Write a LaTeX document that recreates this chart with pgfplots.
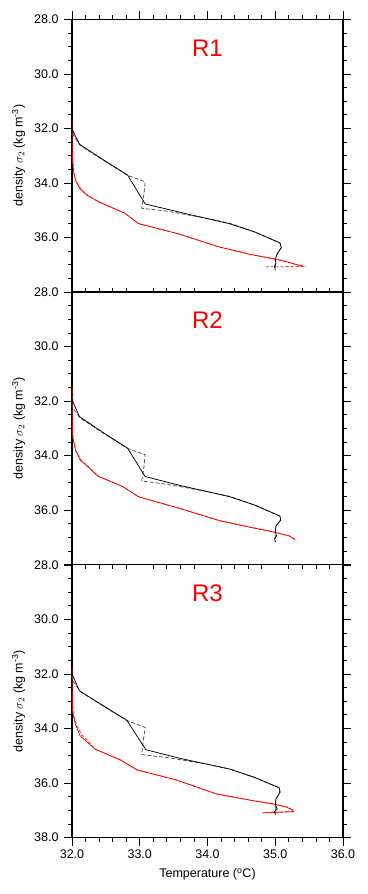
\documentclass[border=0pt]{standalone}
\usepackage{fontspec}
\setmainfont{Liberation Sans}
\usepackage{pgfplots}
\pgfplotsset{compat=1.18}
\tikzset{ttl/.style={text=red, font=\fontsize{24}{28}\selectfont}}
\newcommand{\lblfont}{\fontsize{12.5}{15}\selectfont}
\pgfplotsset{
  panel/.style={
    scale only axis, width=271pt, height=272.6pt,
    xmin=32, xmax=36, ymin=28, ymax=38, y dir=reverse,
    xtick={32,33,34,35,36}, ytick={28,30,32,34,36,38},
    minor x tick num=4, minor y tick num=3,
    tick align=outside, major tick length=8pt, minor tick length=4pt,
    axis line style={line width=1.1pt},
    every tick/.style={black, line width=0.7pt},
    ytick pos=both, yticklabel pos=left,
    xticklabel style={font=\lblfont, yshift=-1pt},
    yticklabel style={font=\lblfont, xshift=-2pt},
    ylabel={density $\sigma_2$ (kg m\textsuperscript{-3})},
    every axis y label/.style={at={(axis description cs:-0.197,0.5)}, rotate=90, anchor=center, font=\lblfont},
    every axis x label/.style={at={(axis description cs:0.5,-0.136)}, anchor=center, font=\lblfont},
  },
  blk/.style={black, line width=0.75pt},
  blkd/.style={black!70, line width=0.75pt, dash pattern=on 4pt off 2pt},
  rd/.style={red, line width=0.75pt},
  rdd/.style={red!85, line width=0.75pt, dash pattern=on 3pt off 2pt},
}
\begin{document}
\begin{tikzpicture}
\useasboundingbox (0,0) rectangle (367pt,894pt);
% ---------------- R1 ----------------
\begin{axis}[panel, at={(72pt,602pt)}, anchor=south west,
  xtick pos=upper, xticklabels={},
  yticklabels={28.0,30.0,32.0,34.0,36.0,{}}]
\addplot[rdd] coordinates {(32.00,31.80) (32.00,32.80) (32.02,33.40) (32.04,33.80) (32.10,34.12) (32.20,34.40) (32.38,34.68) (32.78,35.11) (32.98,35.49) (33.59,35.88) (34.16,36.34) (34.63,36.62) (34.97,36.78) (35.16,36.88) (35.29,36.98) (35.41,37.06) (34.83,37.08)};
\addplot[rd] coordinates {(32.00,31.70) (32.00,32.50) (32.01,33.24) (32.03,33.70) (32.06,33.95) (32.12,34.22) (32.22,34.45) (32.41,34.71) (32.78,35.11) (32.98,35.49) (33.59,35.88) (34.16,36.34) (34.63,36.62) (34.97,36.78) (35.16,36.88) (35.29,36.98) (35.41,37.05)};
\addplot[blkd] coordinates {(32.00,31.95) (32.02,32.25) (32.12,32.62) (32.45,33.15) (32.82,33.72) (33.08,33.96) (33.06,34.45) (33.03,34.93) (33.39,35.03) (34.00,35.30) (34.33,35.48) (34.70,35.80) (35.07,36.20) (35.09,36.37) (35.03,36.60) (35.00,36.80) (35.00,37.20)};
\addplot[blk] coordinates {(32.00,31.77) (32.00,32.02) (32.11,32.58) (32.45,33.13) (32.82,33.71) (33.08,34.77) (33.60,35.08) (34.33,35.50) (34.70,35.80) (35.07,36.20) (35.09,36.37) (35.03,36.60) (35.00,36.80) (35.01,36.95) (34.99,37.05) (35.00,37.20)};
\node[ttl] at (axis cs:34.0,29.05) {R1};
\end{axis}
% ---------------- R2 ----------------
\begin{axis}[panel, at={(72pt,329.4pt)}, anchor=south west,
  xmajorticks=false, xminorticks=false, xticklabels={},
  yticklabels={28.0,30.0,32.0,34.0,36.0,{}}]
\addplot[rdd] coordinates {(32.00,31.60) (32.00,32.80) (32.02,33.45) (32.06,33.85) (32.14,34.18) (32.24,34.40) (32.38,34.75) (32.75,35.14) (32.98,35.51) (33.59,35.94) (34.18,36.39) (34.63,36.63) (34.97,36.80) (35.21,36.95) (35.29,37.08)};
\addplot[rd] coordinates {(32.00,31.46) (32.00,32.50) (32.01,33.30) (32.05,33.79) (32.12,34.16) (32.22,34.38) (32.38,34.75) (32.75,35.14) (32.98,35.51) (33.59,35.94) (34.18,36.39) (34.63,36.63) (34.97,36.80) (35.21,36.95) (35.29,37.08)};
\addplot[blkd] coordinates {(32.00,32.10) (32.02,32.28) (32.12,32.62) (32.45,33.16) (32.82,33.74) (33.08,33.97) (33.06,34.45) (33.03,34.93) (33.39,35.05) (34.00,35.32) (34.33,35.50) (34.70,35.82) (35.07,36.22) (35.08,36.37) (35.01,36.59) (35.00,36.80) (35.00,37.17)};
\addplot[blk] coordinates {(32.00,31.95) (32.11,32.57) (32.45,33.14) (32.82,33.73) (33.08,34.77) (33.60,35.10) (34.33,35.51) (34.70,35.82) (35.07,36.22) (35.08,36.37) (35.01,36.59) (35.00,36.80) (35.02,36.95) (34.99,37.05) (35.00,37.17)};
\node[ttl] at (axis cs:34.0,29.05) {R2};
\end{axis}
% ---------------- R3 ----------------
\begin{axis}[panel, at={(72pt,56.5pt)}, anchor=south west,
  xtick pos=lower,
  xticklabels={32.0,33.0,34.0,35.0,36.0},
  yticklabels={28.0,30.0,32.0,34.0,36.0,38.0},
  xlabel={Temperature (\textsuperscript{o}C)}]
\addplot[rdd] coordinates {(32.00,31.90) (32.00,32.80) (32.02,33.50) (32.07,33.90) (32.15,34.25) (32.25,34.50) (32.34,34.76) (32.71,35.15) (32.96,35.52) (33.54,35.89) (34.13,36.40) (34.63,36.63) (34.97,36.77) (35.16,36.88) (35.25,36.98) (35.27,37.05) (34.81,37.09)};
\addplot[rd] coordinates {(32.00,31.77) (32.00,32.50) (32.01,33.41) (32.05,33.84) (32.12,34.27) (32.22,34.49) (32.34,34.76) (32.71,35.15) (32.96,35.52) (33.54,35.89) (34.13,36.40) (34.63,36.63) (34.97,36.77) (35.16,36.88) (35.25,36.98) (35.27,37.05) (34.81,37.10)};
\addplot[blkd] coordinates {(32.00,32.05) (32.02,32.28) (32.12,32.64) (32.45,33.16) (32.81,33.71) (33.08,33.96) (33.05,34.50) (33.03,34.96) (33.39,35.06) (34.00,35.31) (34.33,35.49) (34.70,35.80) (35.06,36.18) (35.07,36.34) (35.01,36.59) (35.00,36.80) (35.00,37.16)};
\addplot[blk] coordinates {(32.00,31.85) (32.00,32.00) (32.11,32.62) (32.45,33.15) (32.81,33.70) (33.09,34.78) (33.60,35.10) (34.33,35.49) (34.70,35.80) (35.06,36.18) (35.07,36.34) (35.01,36.59) (35.00,36.80) (35.03,36.95) (34.99,37.05) (35.00,37.16)};
\node[ttl] at (axis cs:34.0,29.05) {R3};
\end{axis}
\end{tikzpicture}
\end{document}
